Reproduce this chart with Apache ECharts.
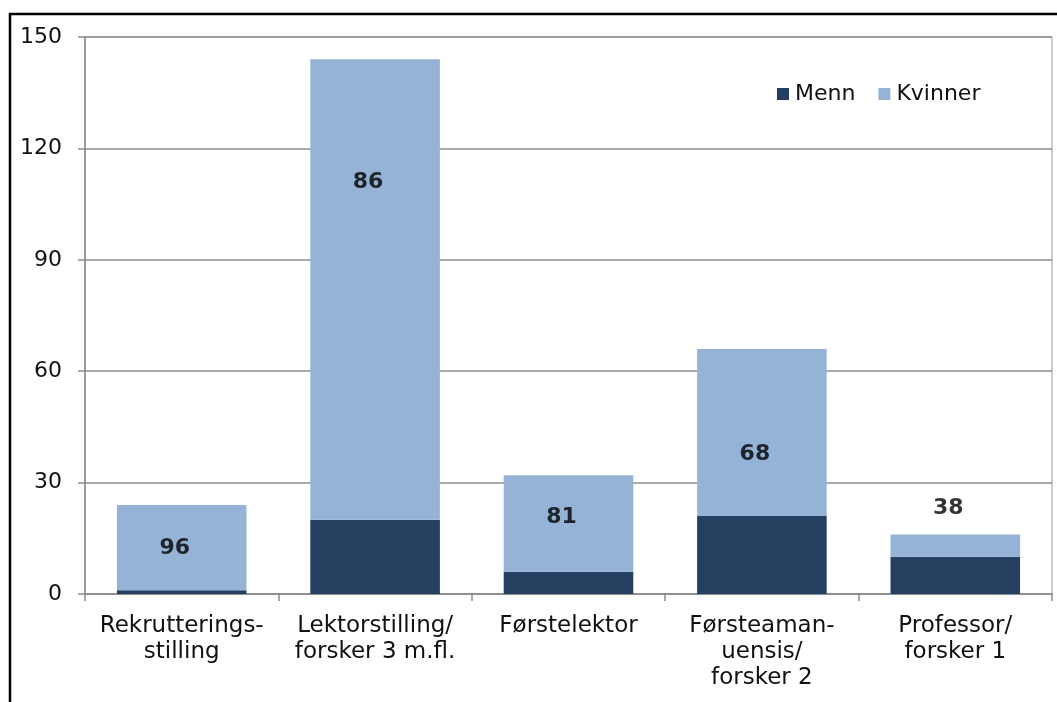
<!DOCTYPE html>
<html>
<head>
<meta charset="utf-8">
<script src="https://cdn.jsdelivr.net/npm/echarts@6/dist/echarts.min.js"></script>
<style>
  html, body { margin: 0; padding: 0; background: #fff; overflow: hidden; }
  #chart { width: 1057px; height: 702px; }
</style>
</head>
<body>
<div id="chart"></div>
<script>
// categories (manually wrapped like the original)
const categories = [
  'Rekrutterings-\nstilling',
  'Lektorstilling/\nforsker 3 m.fl.',
  'Førstelektor',
  'Førsteaman-\nuensis/\nforsker 2',
  'Professor/\nforsker 1'
];
const menn = [1, 20, 6, 21, 10];
const kvinner = [23, 124, 26, 45, 6];
// share of women (%) shown as text labels, and where they sit on the value axis
const pctKvinner = [96, 86, 81, 68, 38];
const labelAt = [12.4, 111, 20.7, 37.7, 23.2];
const yTicks = { min: 0, max: 150, interval: 30 };

const font = 'Verdana, "DejaVu Sans", sans-serif';
const chart = echarts.init(document.getElementById('chart'));

chart.setOption({
  animation: false,
  textStyle: { fontFamily: font },
  grid: {
    left: 85, right: 5, top: 37, bottom: 108,
    show: true, borderColor: '#9a9a9a', borderWidth: 1
  },
  legend: {
    top: 78, left: 772,
    itemWidth: 12, itemHeight: 12, itemGap: 23,
    icon: 'rect',
    textStyle: { fontSize: 22, color: '#111', fontFamily: font, padding: [0, 0, 0, 1] },
    data: ['Menn', 'Kvinner']
  },
  xAxis: {
    type: 'category',
    data: categories,
    axisLine: { lineStyle: { color: '#8a8a8a', width: 1.5 } },
    axisTick: { show: true, length: 7, lineStyle: { color: '#8a8a8a', width: 1.5 } },
    axisLabel: {
      color: '#111', fontSize: 23, margin: 19, lineHeight: 26,
      interval: 0, fontFamily: font
    }
  },
  yAxis: {
    type: 'value',
    min: yTicks.min, max: yTicks.max, interval: yTicks.interval,
    axisLine: { show: true, lineStyle: { color: '#8a8a8a', width: 1.5 } },
    axisTick: { show: true, length: 7, lineStyle: { color: '#8a8a8a', width: 1.5 } },
    axisLabel: { color: '#111', fontSize: 22, margin: 23, fontFamily: font },
    splitLine: { lineStyle: { color: '#8c8c8c', width: 1.5 } }
  },
  series: [
    {
      name: 'Menn', type: 'bar', stack: 'tot',
      barCategoryGap: '33%',
      itemStyle: { color: '#243F60' },
      data: menn
    },
    {
      name: 'Kvinner', type: 'bar', stack: 'tot',
      barCategoryGap: '33%',
      itemStyle: { color: '#95B3D7' },
      data: kvinner
    },
    {
      name: 'pct', type: 'scatter',
      symbolSize: 0, silent: true,
      label: {
        show: true, position: 'inside', offset: [-7, 0],
        formatter: p => String(pctKvinner[p.dataIndex]),
        fontSize: 22, fontWeight: 'bold', color: '#000', fontFamily: font
      },
      data: labelAt,
      z: 10
    }
  ],
  graphic: [{
    type: 'rect',
    shape: { x: 10, y: 14, width: 1200, height: 900 },
    style: { fill: null, stroke: '#000', lineWidth: 2.5 },
    silent: true
  }]
});
</script>
</body>
</html>
